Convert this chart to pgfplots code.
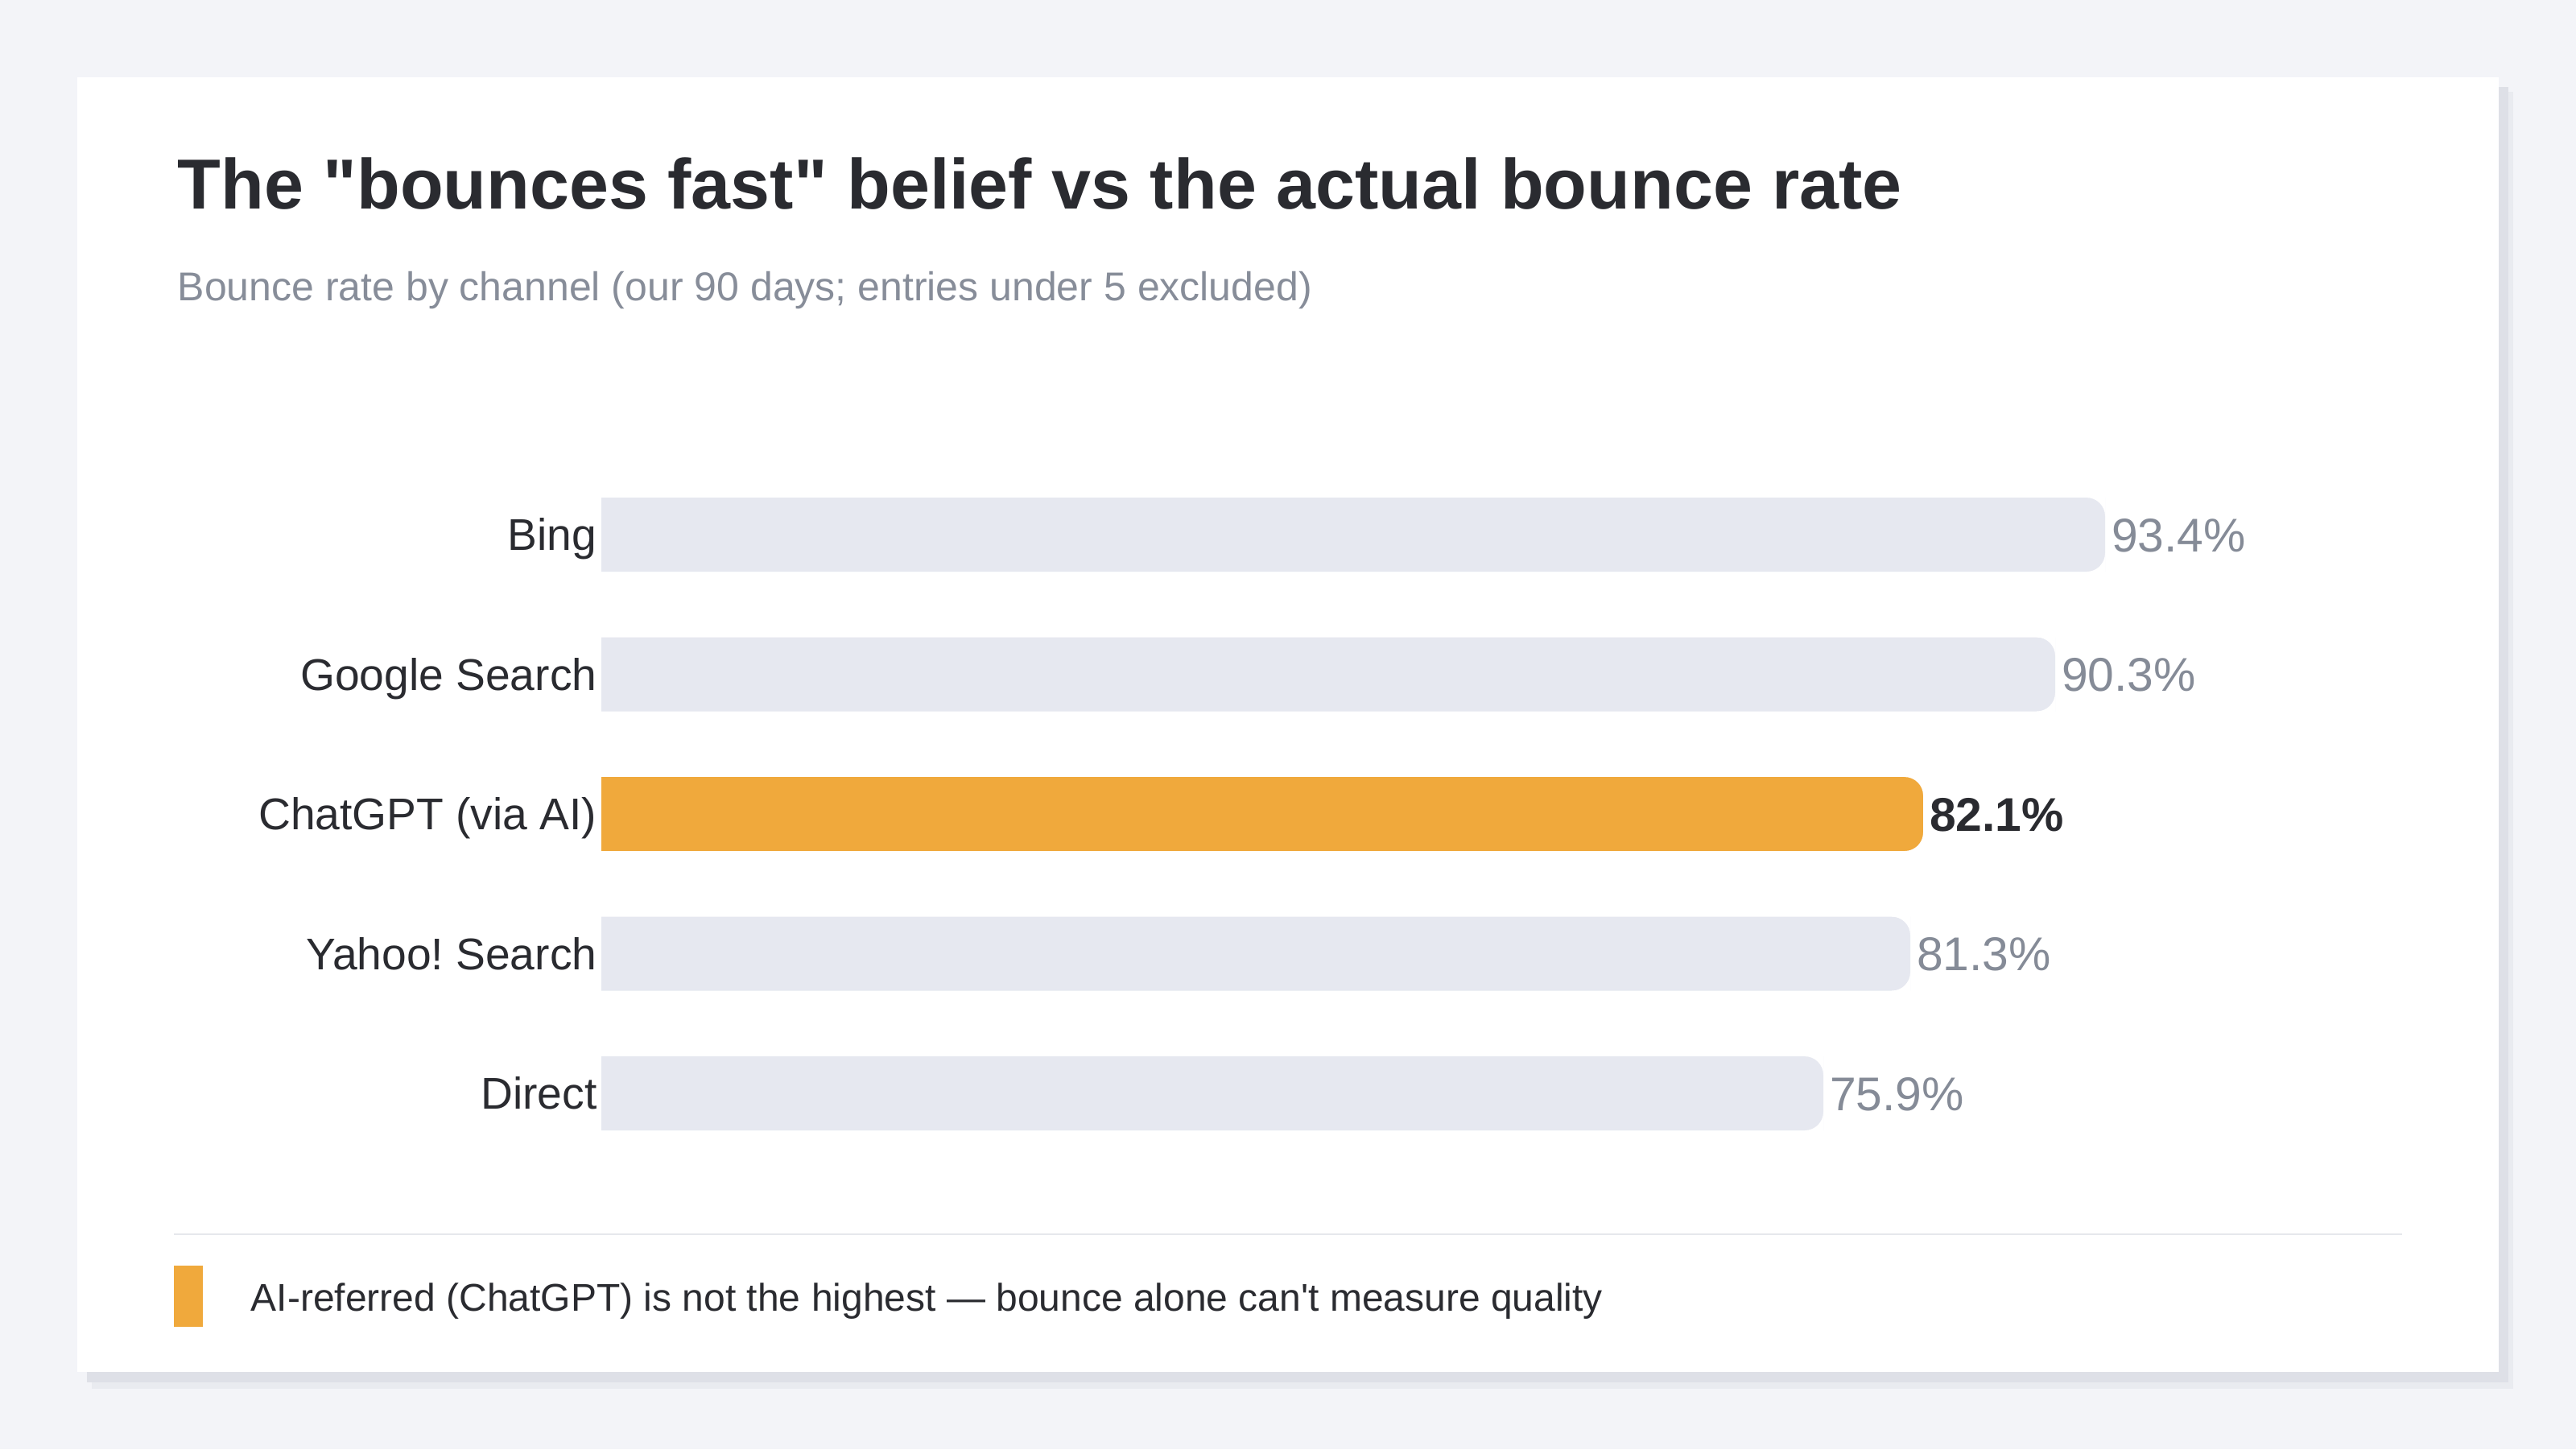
\documentclass[border=0pt]{standalone}
\usepackage{pgfplots}
\pgfplotsset{compat=1.18}
\usepackage{fontspec}
\setmainfont{Liberation Sans}
\newfontfamily\rawfont{Liberation Sans}
\definecolor{pagebg}{HTML}{F3F4F8}
\definecolor{shadowA}{HTML}{DEE0E7}
\definecolor{shadowB}{HTML}{E9EBF0}
\definecolor{titlecol}{HTML}{2A2B30}
\definecolor{subcol}{HTML}{878D99}
\definecolor{barlight}{HTML}{E6E8F0}
\definecolor{barorange}{HTML}{F0A93C}
\definecolor{valgray}{HTML}{858B97}
\definecolor{sepcol}{HTML}{E6E8EC}
% white mask that rounds the two right-hand corners of a bar end
\pgfdeclareplotmark{rcap}{%
  \pgfsetfillcolor{white}%
  \pgfpathmoveto{\pgfqpoint{0.15pt}{11.7pt}}%
  \pgfpathlineto{\pgfqpoint{0.15pt}{5.75pt}}%
  \pgfpathlineto{\pgfqpoint{0pt}{5.75pt}}%
  \pgfpatharc{0}{90}{5.75pt}%
  \pgfpathlineto{\pgfqpoint{-5.75pt}{11.7pt}}%
  \pgfpathclose
  \pgfpathmoveto{\pgfqpoint{0.15pt}{-11.7pt}}%
  \pgfpathlineto{\pgfqpoint{0.15pt}{-5.75pt}}%
  \pgfpathlineto{\pgfqpoint{0pt}{-5.75pt}}%
  \pgfpatharc{0}{-90}{5.75pt}%
  \pgfpathlineto{\pgfqpoint{-5.75pt}{-11.7pt}}%
  \pgfpathclose
  \pgfusepathqfill
}
\begin{document}
\frenchspacing
\begin{tikzpicture}[x=1pt,y=1pt]
% page and card
\fill[pagebg] (0,0) rectangle (800,450);
\fill[shadowB] (28.5,18.75) rectangle (780.5,421.5);
\fill[shadowA] (27,20.75) rectangle (779,423);
\fill[white] (24,24) rectangle (776,426);
% title and subtitle
\node[anchor=base west, inner sep=0pt, font=\rawfont\fontsize{22}{26}\selectfont\bfseries, text=titlecol] at (55,385) {The "bounces fast" belief vs the actual bounce rate};
\node[anchor=base west, inner sep=0pt, font=\fontsize{12.5}{15}\selectfont, text=subcol] at (55,356.6) {Bounce rate by channel (our 90 days; entries under 5 excluded)};
\begin{axis}[
  at={(186.75pt,88.8pt)}, anchor=south west,
  scale only axis, width=500pt, height=216.875pt,
  xmin=0, xmax=100, ymin=-0.5, ymax=4.5,
  axis line style={draw=none}, tick style={draw=none},
  xtick=\empty, ytick={0,1,2,3,4},
  yticklabels={Direct,Yahoo! Search,ChatGPT (via AI),Google Search,Bing},
  yticklabel style={anchor=east, inner sep=0pt, xshift=-1.2pt, text height=9.88pt, text depth=0pt, font=\fontsize{13.8}{16}\selectfont\frenchspacing, text=titlecol},
  major tick length=0pt,
  xbar, bar width=23pt, bar shift=0pt,
  nodes near coords={\pgfmathprintnumber[fixed,fixed zerofill,precision=1,assume math mode=true]{\pgfplotspointmeta}\%},
  point meta=explicit,
  nodes near coords style={anchor=west, inner sep=0pt, xshift=1.8pt, text height=10.5pt, text depth=0pt, font=\fontsize{14.7}{16}\selectfont, text=valgray},
]
\addplot[xbar, bar shift=0pt, fill=barlight, draw=none, mark=rcap] table[x=v, y=pos, meta=v] {
v pos
93.4 4
90.3 3
81.3 1
75.9 0
};
\addplot[xbar, bar shift=0pt, fill=barorange, draw=none, mark=rcap,
  nodes near coords style={text=titlecol, font=\fontsize{14.7}{16}\selectfont\bfseries}] table[x=v, y=pos, meta=v] {
v pos
82.1 2
};
\end{axis}
% footer
\draw[sepcol, line width=0.6pt] (54,66.75) -- (746,66.75);
\fill[barorange] (54,38) rectangle (63.1,57);
\node[anchor=west, inner sep=0pt, text height=8.6pt, text depth=0pt, font=\rawfont\fontsize{12}{14}\selectfont, text=titlecol] at (77.75,47.3) {AI-referred (ChatGPT) is not the highest — bounce alone can't measure quality};
\end{tikzpicture}
\end{document}
